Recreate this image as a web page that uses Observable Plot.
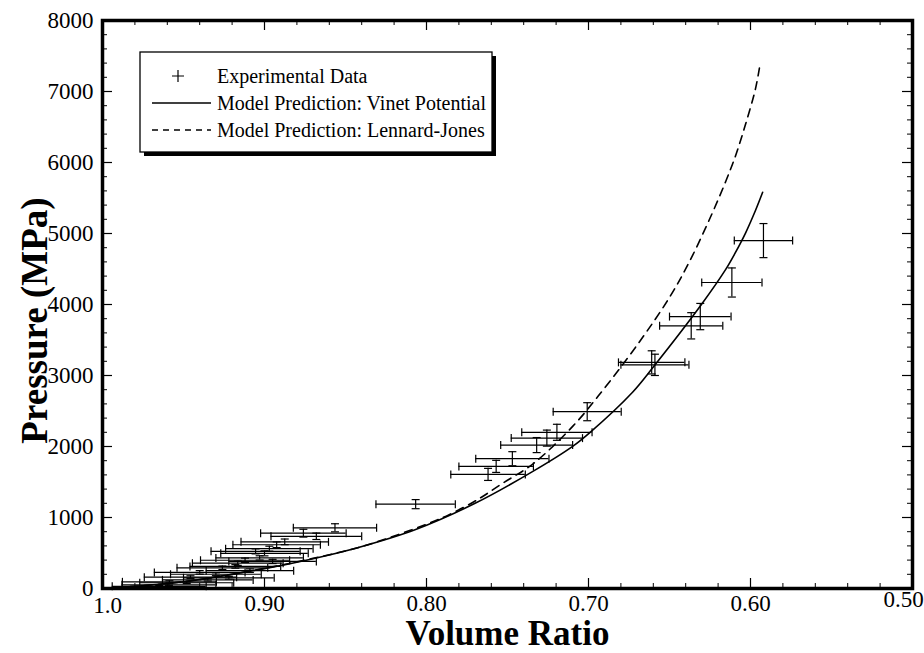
<!DOCTYPE html>
<html><head><meta charset="utf-8">
<script src="https://cdn.jsdelivr.net/npm/d3@7"></script>
<script src="https://cdn.jsdelivr.net/npm/@observablehq/plot@0.6"></script>
<style>
body{margin:0;background:#fff;}
#chart{width:924px;height:653px;}
</style></head><body><div id="chart"></div>
<script>
// Experimental data: volume ratio, pressure (MPa), and their error half-widths
const expVolume      = [0.592, 0.6115, 0.631, 0.6366, 0.661, 0.659, 0.7008, 0.7195, 0.7257, 0.732, 0.747, 0.757, 0.762, 0.8067, 0.8565, 0.876, 0.868, 0.8875, 0.8925, 0.9055, 0.900, 0.912, 0.9165, 0.926, 0.940, 0.9457, 0.9587, 0.959, 0.897, 0.903, 0.918, 0.909, 0.930, 0.922, 0.935, 0.948, 0.965, 0.895];
const expPressure    = [4900, 4310, 3830, 3700, 3185, 3150, 2490, 2200, 2118, 2020, 1828, 1720, 1607, 1188, 855, 779, 735, 657, 616, 523, 495, 398, 356, 291, 227, 159, 94, 52, 561, 431, 311, 251, 201, 151, 121, 81, 31, 381];
const expVolumeErr   = [0.018, 0.0186, 0.019, 0.0195, 0.0205, 0.021, 0.021, 0.0217, 0.022, 0.0222, 0.0226, 0.023, 0.023, 0.0245, 0.0257, 0.0264, 0.028, 0.027, 0.027, 0.0275, 0.027, 0.0275, 0.028, 0.028, 0.028, 0.0285, 0.029, 0.029, 0.027, 0.027, 0.028, 0.027, 0.028, 0.028, 0.028, 0.029, 0.029, 0.027];
const expPressureErr = [240, 205, 185, 185, 163, 150, 127, 113, 113, 106, 99, 85, 85, 64, 57, 55, 45, 40, 40, 35, 35, 30, 30, 25, 25, 20, 15, 12, 35, 30, 25, 25, 20, 20, 15, 12, 10, 30];

// Model prediction: Vinet potential (solid)
const vinetVolume   = [1.0, 0.95, 0.90, 0.87, 0.842, 0.8067, 0.77, 0.7346, 0.7098, 0.699, 0.6728, 0.660, 0.6303, 0.6157, 0.6096, 0.603, 0.597, 0.5925];
const vinetPressure = [0, 95, 280, 420, 578, 831, 1200, 1646, 2002, 2200, 2765, 3120, 4000, 4480, 4720, 5010, 5320, 5580];

// Model prediction: Lennard-Jones (dashed)
const ljVolume   = [1.0, 0.95, 0.90, 0.87, 0.84, 0.81, 0.795, 0.786, 0.769, 0.7527, 0.734, 0.7095, 0.694, 0.669, 0.650, 0.638, 0.6255, 0.615, 0.609, 0.6033, 0.597, 0.5945];
const ljPressure = [0, 96, 285, 425, 590, 820, 950, 1040, 1245, 1486, 1760, 2290, 2710, 3460, 4100, 4590, 5190, 5750, 6110, 6520, 7030, 7330];

// Axes
const xMajorTicks = [1.0, 0.9, 0.8, 0.7, 0.6, 0.5];
const xTickLabels = ["1.0", "0.90", "0.80", "0.70", "0.60", "0.50"];
const xMinorTicks = [0.98, 0.96, 0.94, 0.92, 0.88, 0.86, 0.84, 0.82, 0.78, 0.76, 0.74, 0.72, 0.68, 0.66, 0.64, 0.62, 0.58, 0.56, 0.54, 0.52];
const yMajorTicks = [0, 1000, 2000, 3000, 4000, 5000, 6000, 7000, 8000];
const yTickLabels = ["0", "1000", "2000", "3000", "4000", "5000", "6000", "7000", "8000"];
const yMinorTicks = d3.range(200, 8000, 200).filter(v => v % 1000 !== 0);

const xTitle = "Volume Ratio";
const yTitle = "Pressure (MPa)";
const legendLabels = ["Experimental Data", "Model Prediction: Vinet Potential", "Model Prediction: Lennard-Jones"];

const points = expVolume.map((v, i) => ({v, p: expPressure[i], ve: expVolumeErr[i], pe: expPressureErr[i]}));
const vinet = vinetVolume.map((v, i) => ({v, p: vinetPressure[i]}));
const lj = ljVolume.map((v, i) => ({v, p: ljPressure[i]}));

const vCap = {draw(ctx, size) { const r = Math.sqrt(size / Math.PI); ctx.moveTo(0, -r); ctx.lineTo(0, r); }};
const hCap = {draw(ctx, size) { const r = Math.sqrt(size / Math.PI); ctx.moveTo(-r, 0); ctx.lineTo(r, 0); }};

const W = 924, H = 653, mL = 102, mR = 12, mT = 20, mB = 65;
const plotH = H - mT - mB, plotW = W - mL - mR;
const serif = "'Liberation Serif', 'Times New Roman', Times, serif";
const fmtX = d => xTickLabels[xMajorTicks.indexOf(d)];

const plot = Plot.plot({
  width: W, height: H,
  marginLeft: mL, marginRight: mR, marginTop: mT, marginBottom: mB,
  style: {fontFamily: serif, fontSize: "23px", background: "white", color: "black"},
  x: {domain: [1.0, 0.5], label: null},
  y: {domain: [0, 8000], label: null},
  marks: [
    // inward tick marks on all four sides
    Plot.gridX({ticks: xMajorTicks, insetTop: plotH - 10, stroke: "black", strokeOpacity: 1, strokeWidth: 1.2}),
    Plot.gridX({ticks: xMajorTicks, insetBottom: plotH - 10, stroke: "black", strokeOpacity: 1, strokeWidth: 1.2}),
    Plot.gridX({ticks: xMinorTicks, insetTop: plotH - 5, stroke: "black", strokeOpacity: 1, strokeWidth: 1}),
    Plot.gridX({ticks: xMinorTicks, insetBottom: plotH - 5, stroke: "black", strokeOpacity: 1, strokeWidth: 1}),
    Plot.gridY({ticks: yMajorTicks, insetRight: plotW - 10, stroke: "black", strokeOpacity: 1, strokeWidth: 1.2}),
    Plot.gridY({ticks: yMajorTicks, insetLeft: plotW - 10, stroke: "black", strokeOpacity: 1, strokeWidth: 1.2}),
    Plot.gridY({ticks: yMinorTicks, insetRight: plotW - 5, stroke: "black", strokeOpacity: 1, strokeWidth: 1}),
    Plot.gridY({ticks: yMinorTicks, insetLeft: plotW - 5, stroke: "black", strokeOpacity: 1, strokeWidth: 1}),
    Plot.axisX({ticks: [1.0], tickSize: 0, tickPadding: 8, dx: 5, tickFormat: fmtX}),
    Plot.axisX({ticks: [0.9, 0.8, 0.7, 0.6], tickSize: 0, tickPadding: 6, tickFormat: fmtX}),
    Plot.axisX({ticks: [0.5], tickSize: 0, tickPadding: 2, dx: -9, tickFormat: fmtX}),
    Plot.axisY({ticks: yMajorTicks, tickSize: 0, tickPadding: 9, tickFormat: d => yTickLabels[yMajorTicks.indexOf(d)]}),
    // error bars
    Plot.ruleY(points, {y: "p", x1: d => d.v - d.ve, x2: d => d.v + d.ve, stroke: "black", strokeWidth: 1.2}),
    Plot.ruleX(points, {x: "v", y1: d => d.p - d.pe, y2: d => d.p + d.pe, stroke: "black", strokeWidth: 1.2}),
    Plot.dot(points, {x: d => d.v - d.ve, y: "p", symbol: vCap, r: 4, stroke: "black", strokeWidth: 1.2}),
    Plot.dot(points, {x: d => d.v + d.ve, y: "p", symbol: vCap, r: 4, stroke: "black", strokeWidth: 1.2}),
    Plot.dot(points, {x: "v", y: d => d.p - d.pe, symbol: hCap, r: 4, stroke: "black", strokeWidth: 1.2}),
    Plot.dot(points, {x: "v", y: d => d.p + d.pe, symbol: hCap, r: 4, stroke: "black", strokeWidth: 1.2}),
    // model curves
    Plot.line(vinet, {x: "v", y: "p", curve: "catmull-rom", stroke: "black", strokeWidth: 1.6}),
    Plot.line(lj, {x: "v", y: "p", curve: "catmull-rom", stroke: "black", strokeWidth: 1.6, strokeDasharray: "8,6"}),
    Plot.frame({stroke: "black", strokeWidth: 3.5}),
    // axis titles
    Plot.text([xTitle], {text: d => d, frameAnchor: "bottom", lineAnchor: "middle", textAnchor: "middle", dy: 45, fontSize: 35, fontWeight: "bold", fill: "black"}),
    Plot.text([yTitle], {text: d => d, frameAnchor: "left", lineAnchor: "middle", textAnchor: "middle", dx: -67, dy: 16, rotate: -90, fontSize: 37, fontWeight: "bold", fill: "black"})
  ]
});

// Legend box inside the plot area
const svg = d3.select(plot);
const lg = svg.append("g").attr("font-family", serif).attr("font-size", 20).attr("fill", "black").attr("text-anchor", "start");
const bx = 140, by = 52, bw = 352, bh = 100;
lg.append("rect").attr("x", bx + 4).attr("y", by + 4).attr("width", bw).attr("height", bh).attr("fill", "black");
lg.append("rect").attr("x", bx).attr("y", by).attr("width", bw).attr("height", bh).attr("fill", "white").attr("stroke", "black").attr("stroke-width", 1.3);
const rowY = [76, 103, 130];
lg.append("path").attr("d", `M${178 - 6},${rowY[0]}H${178 + 6}M178,${rowY[0] - 6}V${rowY[0] + 6}`).attr("stroke", "black").attr("stroke-width", 1.2);
lg.append("line").attr("x1", 152).attr("x2", 211).attr("y1", rowY[1]).attr("y2", rowY[1]).attr("stroke", "black").attr("stroke-width", 1.4);
lg.append("line").attr("x1", 152).attr("x2", 211).attr("y1", rowY[2]).attr("y2", rowY[2]).attr("stroke", "black").attr("stroke-width", 1.4).attr("stroke-dasharray", "6,5");
legendLabels.forEach((t, i) => {
  lg.append("text").attr("x", 217).attr("y", rowY[i]).attr("dy", "0.35em").text(t);
});

document.getElementById("chart").appendChild(plot);
</script></body></html>
